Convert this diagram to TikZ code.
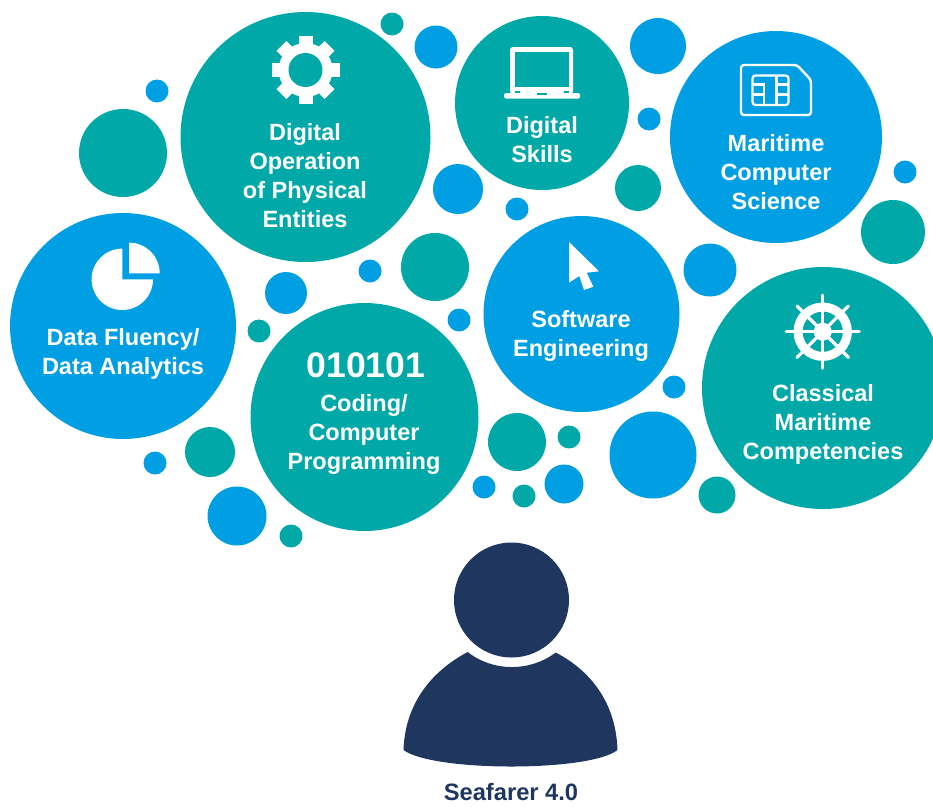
\documentclass[tikz,border=0pt]{standalone}
\usepackage{fontspec}
\setmainfont{Liberation Sans}
\definecolor{tealbub}{HTML}{00A9A7}
\definecolor{bluebub}{HTML}{009FE3}
\definecolor{navyman}{HTML}{1F365F}
\tikzset{
  bublabel/.style={text=white,font=\bfseries\fontsize{23.5}{29}\selectfont,align=center,inner sep=0pt},
  bits/.style={text=white,font=\bfseries\fontsize{35.5}{40}\selectfont,inner sep=0pt},
  seacap/.style={text=navyman,font=\bfseries\fontsize{23.7}{26}\selectfont,inner sep=0pt},
}
\begin{document}
\begin{tikzpicture}[x=1pt,y=-1pt]
\clip (0,0) rectangle (933,806);
\foreach \x/\y/\r in {305.5/137/125,542/103/87,364.5/417/114,823/388/121,123/153/44,392/24/11.5,638/188/23,893/232/32,435/267/34,259/331/11.5,517/442/29,569/437/11.5,717/495/18.5,524/496/11.5,210/452/25,291/536/11.5}
  \fill[tealbub] (\x,\y) circle (\r);
\foreach \x/\y/\r in {776/137/106,123/326/113,581.5/314/98,157/91/11.5,436/47/21.5,658/46/28,649/119/11.5,458/189/25,517/209/11.5,905/172/11.5,710/270/26.5,370/271/11.5,286/293/21,459/320/11.5,674/387/11.5,653/455/43.5,564/484/19.5,484/487/11.5,155/463/11.5,237/516/29.5}
  \fill[bluebub] (\x,\y) circle (\r);
% gear
\fill[white] (305.5,70) circle (27);
\foreach \a in {0,45,...,315}
  \fill[white,rotate around={\a:(305.5,70)}] (298.5,36) rectangle (312.5,50);
\fill[tealbub] (305.5,70) circle (17);
% laptop
\fill[white,rounded corners=3pt] (510,47) rectangle (573,94);
\fill[tealbub] (515,52) rectangle (569,87);
\fill[tealbub] (515,91) rectangle (520,93);
\fill[tealbub] (564,91) rectangle (569,93);
\fill[white,rounded corners=1.5pt] (504,93) rectangle (580,98.5);
\fill[tealbub] (537,93) rectangle (547,94.5);
% sim card
\draw[white,line width=2.4pt,rounded corners=3pt] (741,65) -- (797,65) -- (811,80) -- (811,115) -- (741,115) -- cycle;
\draw[white,line width=2.2pt,rounded corners=3pt] (752.5,75.5) rectangle (788.5,105);
\draw[white,line width=2.2pt] (752.5,84.5) -- (764,84.5) -- (764,105) (752.5,94.5) -- (764,94.5)
  (776.5,75.5) -- (776.5,105) (776.5,84.5) -- (788.5,84.5) (776.5,94.5) -- (788.5,94.5);
% ship wheel
\draw[white,line width=9pt] (822.7,331.7) circle (24.7);
\fill[white] (822.7,331.7) circle (9);
\foreach \a in {0,45,...,315}
  \draw[white,line width=3.2pt,line cap=round] (822.7,331.7) -- ++(\a:36.5);
% pie
\fill[white] (122.3,279.3) -- ++(0:30.7) arc[start angle=0,end angle=270,radius=30.7] -- cycle;
\fill[white] (129,273.3) -- ++(-90:30.7) arc[start angle=-90,end angle=0,radius=30.7] -- cycle;
% cursor
\fill[white] (569,242) -- (599,271.3) -- (586.7,272.7) -- (593.3,286.7) -- (584,290) -- (579.3,276) -- (569,282.7) -- cycle;
% person
\fill[navyman] (511.5,600) circle (57.5);
\fill[navyman] (403.5,750) .. controls (405,705) and (430,672) .. (467.7,652)
  .. controls (493,672) and (530,672) .. (555.7,652.5)
  .. controls (593,672) and (616,705) .. (617.5,750)
  .. controls (590,772) and (433,772) .. (403.5,750) -- cycle;
\node[bublabel] (operation) at (305,176) {Digital\\Operation\\of Physical\\Entities};
\node[bublabel] (skills) at (542,139.5) {Digital\\Skills};
\node[bublabel] (maritime) at (776,172) {Maritime\\Computer\\Science};
\node[bublabel] (fluency) at (123,354) {Data Fluency/\\Data Analytics};
\node[bits] (bits) at (366,365) {010101};
\node[bublabel] (coding) at (364,434.5) {Coding/\\Computer\\Programming};
\node[bublabel] (software) at (581,335.5) {Software\\Engineering};
\node[bublabel] (classical) at (823,424) {Classical\\Maritime\\Competencies};
\node[seacap] (seafarer) at (511,792) {Seafarer 4.0};
\end{tikzpicture}
\end{document}
